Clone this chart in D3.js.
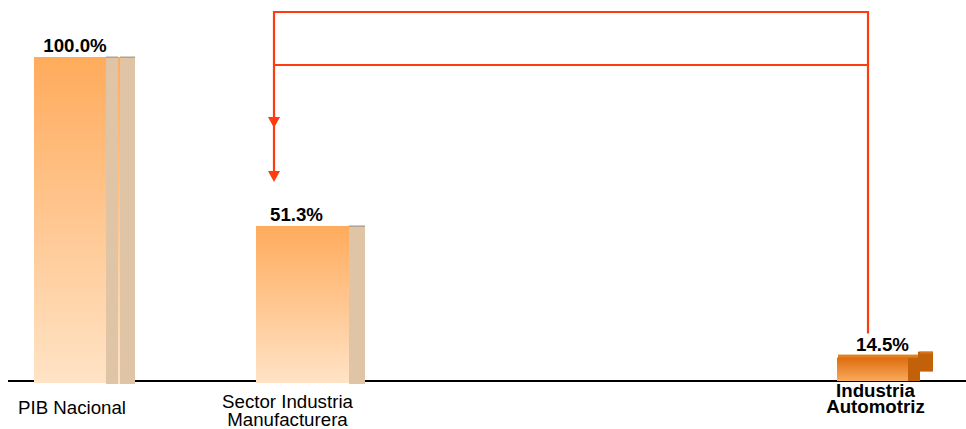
<!DOCTYPE html>
<html>
<head>
<meta charset="utf-8">
<script src="https://cdn.jsdelivr.net/npm/d3@7"></script>
<style>
  html, body { margin: 0; padding: 0; background: #fff; }
  svg { display: block; }
  text { font-family: "Liberation Sans", Arial, sans-serif; fill: #000; }
</style>
</head>
<body>
<svg id="chart" width="966" height="429"></svg>
<script>
// ---- data ----
const categories = ["PIB Nacional", "Sector Industria Manufacturera", "Industria Automotriz"];
const categoryLines = [["PIB Nacional"], ["Sector Industria", "Manufacturera"], ["Industria", "Automotriz"]];
const values = [100.0, 51.3, 14.5];
const valueLabels = ["100.0%", "51.3%", "14.5%"];
const emphasis = [false, false, true];

const W = 966, H = 429;
const svg = d3.select("#chart");
const defs = svg.append("defs");

// gradients
const gLight = defs.append("linearGradient").attr("id", "gLight")
  .attr("x1", 0).attr("y1", 0).attr("x2", 0).attr("y2", 1);
gLight.append("stop").attr("offset", "0%").attr("stop-color", "#FFAB5C");
gLight.append("stop").attr("offset", "100%").attr("stop-color", "#FFE3C6");
const gDark = defs.append("linearGradient").attr("id", "gDark")
  .attr("x1", 0).attr("y1", 0).attr("x2", 0).attr("y2", 1);
gDark.append("stop").attr("offset", "0%").attr("stop-color", "#DE6C0E");
gDark.append("stop").attr("offset", "100%").attr("stop-color", "#F9AA5C");

// scales
const baseY = 381;
const x = d3.scaleOrdinal().domain(categories).range([34, 256, 837]);
const bw = d3.scaleOrdinal().domain(categories).range([72, 93, 71]);
const y = d3.scaleLinear().domain([6.6, 100]).range([baseY, 57]);

const data = categories.map((c, i) => ({ c, v: values[i], lab: valueLabels[i], lines: categoryLines[i], emph: emphasis[i], i }));

const tan = "#E0C4A6", tanTop = "#B3A290";

// arrows (drawn first so labels sit on top)
const red = "#FF3B10";
const xL = x(categories[1]) + 18;
const xR = x(categories[2]) + 31;
const topOuter = 12, topInner = 65;
const tip1 = 128, tip2 = 182;
svg.append("path")
  .attr("d", `M${xR},${y(values[2]) - 20} V${topOuter} H${xL} V${tip2 - 6}`)
  .attr("fill", "none").attr("stroke", red).attr("stroke-width", 2.2);
svg.append("path")
  .attr("d", `M${xR},${topInner} H${xL}`)
  .attr("fill", "none").attr("stroke", red).attr("stroke-width", 2.2);
[tip1, tip2].forEach(tp => {
  svg.append("path")
    .attr("d", `M${xL - 6},${tp - 11} L${xL + 6},${tp - 11} L${xL},${tp} Z`)
    .attr("fill", red);
});

// baseline
svg.append("line").attr("x1", 8).attr("x2", W).attr("y1", baseY).attr("y2", baseY)
  .attr("stroke", "#000").attr("stroke-width", 2);

data.forEach(d => {
  const x0 = x(d.c), w = bw(d.c), top = y(d.v);
  const g = svg.append("g");
  if (!d.emph) {
    g.append("rect").attr("x", x0).attr("y", top).attr("width", w).attr("height", baseY - top + 2)
      .attr("fill", "url(#gLight)");
    const panels = d.i === 0 ? [[w, 12], [w + 14, 15]] : [[w, 16]];
    if (d.i === 0) {
      g.append("rect").attr("x", x0 + w + 12).attr("y", top).attr("width", 2).attr("height", baseY - top + 3)
        .attr("fill", "url(#gLight)");
    }
    panels.forEach(([dx, pw]) => {
      g.append("rect").attr("x", x0 + dx).attr("y", top).attr("width", pw).attr("height", baseY - top + 3)
        .attr("fill", tan);
      g.append("rect").attr("x", x0 + dx).attr("y", top - 0.5).attr("width", pw).attr("height", 1.5)
        .attr("fill", tanTop);
    });
  } else {
    g.append("rect").attr("x", x0 + 1).attr("y", top + 1).attr("width", w + 11).attr("height", baseY - top - 1)
      .attr("fill", "#E2801F");
    g.append("rect").attr("x", x0).attr("y", top + 4).attr("width", w).attr("height", baseY - top - 4)
      .attr("fill", "url(#gDark)");
    g.append("rect").attr("x", x0 + w).attr("y", top + 4).attr("width", 12).attr("height", baseY - top - 4)
      .attr("fill", "#C2610A");
    g.append("rect").attr("x", x0 + w + 10).attr("y", top - 2).attr("width", 15).attr("height", 20)
      .attr("fill", "#C2610A");
    g.append("rect").attr("x", x0 + w + 12).attr("y", top - 2).attr("width", 13).attr("height", 2)
      .attr("fill", "#D87418");
  }
  // value label
  const labDx = [5, -6, 10][d.i];
  svg.append("text").attr("x", x0 + w / 2 + labDx).attr("y", top - (d.emph ? 3 : 5))
    .attr("text-anchor", "middle").attr("font-weight", "bold").attr("font-size", "18.7px")
    .text(d.lab);
  // category label
  const catDx = [2, -15, 3][d.i];
  const catY = [414, 408, 397][d.i];
  const lh = [18, 18, 16][d.i];
  const t = svg.append("text").attr("text-anchor", "middle").attr("font-size", "18.7px")
    .attr("font-weight", d.emph ? "bold" : "normal");
  d.lines.forEach((ln, k) => {
    t.append("tspan").attr("x", x0 + w / 2 + catDx).attr("y", catY + k * lh).text(ln);
  });
});
</script>
</body>
</html>
